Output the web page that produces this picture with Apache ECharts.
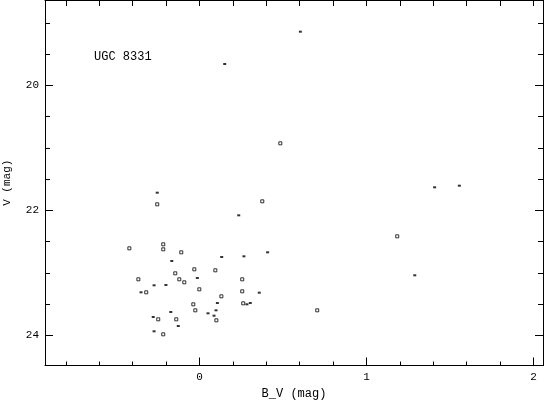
<!DOCTYPE html>
<html>
<head>
<meta charset="utf-8">
<script src="https://cdn.jsdelivr.net/npm/echarts@6/dist/echarts.min.js"></script>
<style>
  html, body { margin: 0; padding: 0; background: #fff; }
  #main { width: 544px; height: 400px; }
</style>
</head>
<body>
<div id="main"></div>
<script>
// 实心小点 (B-V, V)
var bvFilled = [-0.253, 0.151, 0.604, 1.408, 1.556, 1.289, 0.235, -0.166, -0.013, 0.133,
  0.266, 0.408, -0.272, -0.201, -0.350, 0.358, 0.107, -0.172, 0.051, 0.099,
  0.087, 0.284, 0.304, -0.277, -0.127, -0.272];
var vFilled = [21.715, 19.656, 19.139, 21.629, 21.603, 23.037, 22.077, 22.808, 23.080, 22.744,
  22.733, 22.669, 23.197, 23.192, 23.309, 23.315, 23.480, 23.624, 23.645, 23.597,
  23.683, 23.501, 23.480, 23.704, 23.848, 23.933];
// 空心方框
var bvOpen = [-0.253, 0.376, 0.484, 1.184, 0.705, -0.420, -0.217, -0.217, -0.109, -0.145,
  -0.031, 0.095, -0.366, -0.121, -0.091, -0.319, -0.001, 0.131, 0.256, 0.256,
  -0.037, -0.025, 0.101, 0.262, -0.247, -0.139, -0.217];
var vOpen = [21.901, 21.853, 20.925, 22.413, 23.597, 22.605, 22.541, 22.621, 22.669, 23.005,
  22.941, 22.957, 23.101, 23.101, 23.149, 23.309, 23.261, 23.373, 23.101, 23.293,
  23.501, 23.597, 23.757, 23.485, 23.741, 23.741, 23.981];

var xTickLabels = [0, 1, 2];
var yTickLabels = [20, 22, 24];

var xMin = -0.9251, xMax = 2.0569;
var yMin = 18.632, yMax = 24.48;

function zip(a, b) {
  var out = [];
  for (var i = 0; i < a.length; i++) out.push([a[i], b[i]]);
  return out;
}

var font = 'Liberation Mono';

function xAxisCfg(pos, withLabels) {
  return {
    type: 'value', position: pos, min: xMin, max: xMax, splitNumber: 3,
    axisLine: { show: true, onZero: false, lineStyle: { color: '#000', width: 1 } },
    axisTick: { show: true, inside: true, length: withLabels ? 8 : 6, lineStyle: { color: '#000' } },
    minorTick: { show: true, splitNumber: 5, length: withLabels ? 4 : 6, lineStyle: { color: '#000' } },
    splitLine: { show: false },
    axisLabel: {
      show: withLabels, showMinLabel: false, showMaxLabel: false, margin: 6,
      color: '#000', fontFamily: font, fontSize: 11,
      formatter: function (v) { return xTickLabels.indexOf(v) >= 0 ? String(v) : ''; }
    },
    name: withLabels ? 'B_V (mag)' : '', nameLocation: 'middle', nameGap: 21,
    nameTextStyle: { color: '#000', fontFamily: font, fontSize: 12 }
  };
}

function yAxisCfg(pos, withLabels) {
  return {
    type: 'value', position: pos, inverse: true, min: yMin, max: yMax, splitNumber: 3,
    axisLine: { show: true, onZero: false, lineStyle: { color: '#000', width: 1 } },
    axisTick: { show: true, inside: true, length: 8, lineStyle: { color: '#000' } },
    minorTick: { show: true, splitNumber: 4, length: 5, lineStyle: { color: '#000' } },
    splitLine: { show: false },
    axisLabel: {
      show: withLabels, showMinLabel: false, showMaxLabel: false, margin: 6,
      color: '#000', fontFamily: font, fontSize: 11,
      formatter: function (v) { return yTickLabels.indexOf(v) >= 0 ? String(v) : ''; }
    },
    name: withLabels ? 'V (mag)' : '', nameLocation: 'middle', nameGap: 32,
    nameTextStyle: { color: '#000', fontFamily: font, fontSize: 11 }
  };
}

var myChart = echarts.init(document.getElementById('main'));
var option = {
  animation: false,
  backgroundColor: '#fff',
  grid: { left: 45, right: 1, top: 0, bottom: 34.5, containLabel: false, outerBoundsMode: 'none' },
  title: {
    text: 'UGC 8331', left: 89, top: 46,
    textStyle: { color: '#000', fontFamily: font, fontSize: 12, fontWeight: 'normal' }
  },
  xAxis: [xAxisCfg('bottom', true), xAxisCfg('top', false)],
  yAxis: [yAxisCfg('left', true), yAxisCfg('right', false)],
  series: [
    {
      type: 'scatter', xAxisIndex: 0, yAxisIndex: 0,
      data: zip(bvFilled, vFilled),
      symbol: 'rect', symbolSize: [3, 2],
      itemStyle: { color: '#000' }
    },
    {
      type: 'scatter', xAxisIndex: 0, yAxisIndex: 0,
      data: zip(bvOpen, vOpen),
      symbol: 'rect', symbolSize: 3,
      itemStyle: { color: '#fff', borderColor: '#000', borderWidth: 1 }
    }
  ]
};
myChart.setOption(option);
</script>
</body>
</html>
